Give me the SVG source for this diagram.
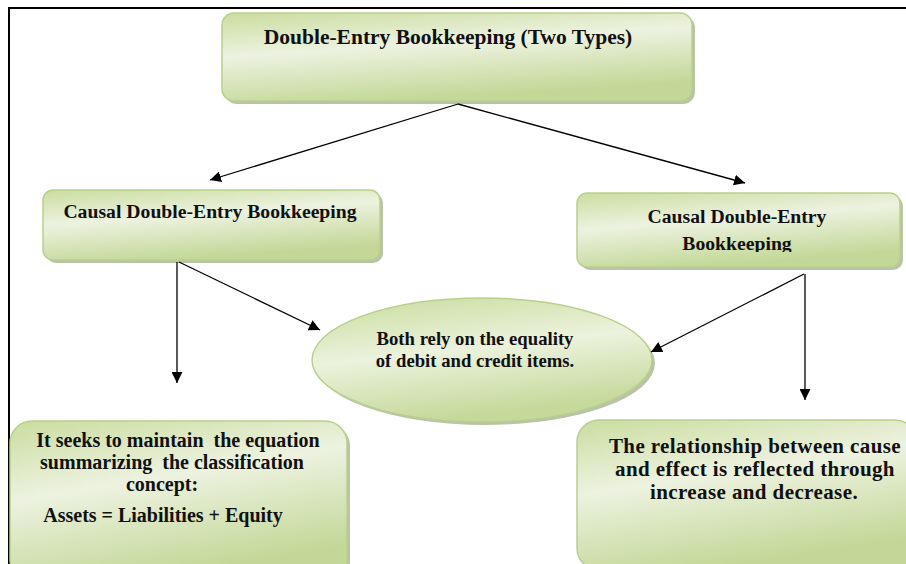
<svg xmlns="http://www.w3.org/2000/svg" width="906" height="564" viewBox="0 0 906 564">
<defs>
<linearGradient id="g" x1="0" y1="0" x2="0.35" y2="1">
<stop offset="0" stop-color="#cadd9f"/>
<stop offset="0.45" stop-color="#edf2e0"/>
<stop offset="1" stop-color="#c3d898"/>
</linearGradient>
<linearGradient id="ge" x1="0" y1="0" x2="0.3" y2="1">
<stop offset="0" stop-color="#c8dc9c"/>
<stop offset="0.5" stop-color="#ecf2dd"/>
<stop offset="1" stop-color="#c5d99a"/>
</linearGradient>
<marker id="ah" viewBox="0 0 11 11" refX="11" refY="5.5" markerWidth="11" markerHeight="11" markerUnits="userSpaceOnUse" orient="auto">
<path d="M0,0 L11,5.5 L0,11 Z" fill="#000"/>
</marker>
<clipPath id="clipR"><rect x="577" y="193" width="323" height="59"/></clipPath>
</defs>
<style>
.box{fill:url(#g);stroke:#b9d08c;stroke-width:1.5}
.ell{fill:url(#ge);stroke:#b9d08c;stroke-width:1.5}
.sh{fill:#a8b494;opacity:0.8}
.t{font-family:"Liberation Serif","Times New Roman",serif;font-weight:bold;fill:#111;text-anchor:middle}
.c{stroke:#000;stroke-width:1.3;fill:none;marker-end:url(#ah)}
</style>
<rect width="906" height="564" fill="#fff"/>
<path d="M9,564 L9,8 L906,8" fill="none" stroke="#000" stroke-width="2"/>

<g id="top">
<rect class="sh" x="225" y="16" width="470" height="88" rx="12"/>
<rect class="box" x="222" y="13" width="470" height="88" rx="12"/>
<text class="t" x="448" y="44" font-size="21.5">Double-Entry Bookkeeping (Two Types)</text>
</g>

<g id="left">
<rect class="sh" x="46" y="193" width="337" height="70" rx="10"/>
<rect class="box" x="43" y="190" width="337" height="70" rx="10"/>
<text class="t" x="210" y="218" font-size="19.7">Causal Double-Entry Bookkeeping</text>
</g>

<g id="right">
<rect class="sh" x="580" y="196" width="323" height="74" rx="10"/>
<rect class="box" x="577" y="193" width="323" height="74" rx="10"/>
<text class="t" x="737" y="223" font-size="19.7">Causal Double-Entry</text>
<text class="t" x="737" y="250" font-size="19.7" clip-path="url(#clipR)">Bookkeeping</text>
</g>

<g id="center">
<ellipse class="sh" cx="485" cy="363" rx="170" ry="62"/>
<ellipse class="ell" cx="482" cy="360" rx="170" ry="62"/>
<text class="t" x="475" y="345" font-size="18.7">Both rely on the equality</text>
<text class="t" x="475" y="367" font-size="18.7">of debit and credit items.</text>
</g>

<g id="bottomleft">
<rect class="sh" x="13" y="424" width="337" height="160" rx="22"/>
<rect class="box" x="10" y="421" width="337" height="160" rx="22"/>
<text class="t" x="178" y="447" font-size="20" xml:space="preserve">It seeks to maintain  the equation</text>
<text class="t" x="172" y="469" font-size="20" xml:space="preserve">summarizing  the classification</text>
<text class="t" x="162" y="491" font-size="20">concept:</text>
<text class="t" x="163" y="522" font-size="20">Assets = Liabilities + Equity</text>
</g>

<g id="bottomright">
<rect class="sh" x="580" y="423" width="340" height="150" rx="22"/>
<rect class="box" x="577" y="420" width="340" height="150" rx="22"/>
<text class="t" x="755" y="453" font-size="21" letter-spacing="0.4">The relationship between cause</text>
<text class="t" x="755" y="476" font-size="21" letter-spacing="0.4">and effect is reflected through</text>
<text class="t" x="754" y="499" font-size="21" letter-spacing="0.4">increase and decrease.</text>
</g>

<g id="connectors">
<path class="c" d="M458,104 L210,180"/>
<path class="c" d="M458,104 L745,183"/>
<path class="c" d="M177,262 L177,383"/>
<path class="c" d="M179,262 L320,330"/>
<path class="c" d="M804,274 L651,352"/>
<path class="c" d="M805,274 L805,400"/>
</g>
</svg>
